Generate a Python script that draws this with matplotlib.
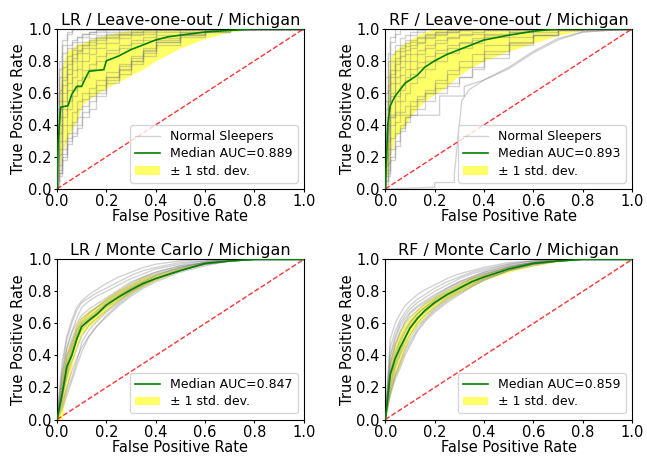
import matplotlib
matplotlib.use("Agg")
import matplotlib.pyplot as plt

# ---- leave-one-out panels: shared FPR grid ----
loo_fpr = [0, 0.01, 0.02, 0.04, 0.06, 0.08, 0.1, 0.13, 0.16, 0.2,
           0.25, 0.3, 0.35, 0.4, 0.5, 0.6, 0.7, 0.8, 0.9, 1.0]

lr_loo_curves = [
    [0, 0.55, 0.75, 0.90, 0.97, 1.0, 1.0, 1.0, 1.0, 1.0, 1.0, 1.0, 1.0, 1.0, 1.0, 1.0, 1.0, 1.0, 1.0, 1.0],
    [0, 0.30, 0.60, 0.80, 0.88, 0.92, 0.95, 0.97, 0.98, 0.99, 1.0, 1.0, 1.0, 1.0, 1.0, 1.0, 1.0, 1.0, 1.0, 1.0],
    [0, 0.20, 0.35, 0.60, 0.72, 0.80, 0.85, 0.88, 0.90, 0.93, 0.95, 0.97, 0.98, 0.99, 1.0, 1.0, 1.0, 1.0, 1.0, 1.0],
    [0, 0.10, 0.25, 0.45, 0.55, 0.62, 0.68, 0.74, 0.78, 0.83, 0.87, 0.90, 0.93, 0.95, 0.98, 0.99, 1.0, 1.0, 1.0, 1.0],
    [0, 0.05, 0.10, 0.20, 0.28, 0.33, 0.38, 0.45, 0.50, 0.58, 0.66, 0.72, 0.78, 0.83, 0.90, 0.95, 0.98, 0.99, 1.0, 1.0],
    [0, 0.02, 0.08, 0.18, 0.30, 0.35, 0.40, 0.48, 0.55, 0.60, 0.68, 0.75, 0.80, 0.86, 0.92, 0.96, 0.98, 1.0, 1.0, 1.0],
    [0, 0.40, 0.55, 0.70, 0.78, 0.84, 0.87, 0.90, 0.92, 0.94, 0.96, 0.97, 0.98, 0.99, 1.0, 1.0, 1.0, 1.0, 1.0, 1.0],
    [0, 0.15, 0.30, 0.50, 0.62, 0.70, 0.75, 0.80, 0.84, 0.88, 0.91, 0.94, 0.96, 0.97, 0.99, 1.0, 1.0, 1.0, 1.0, 1.0],
    [0, 0.08, 0.15, 0.30, 0.40, 0.48, 0.55, 0.60, 0.63, 0.68, 0.73, 0.78, 0.83, 0.87, 0.93, 0.97, 0.99, 1.0, 1.0, 1.0],
    [0, 0.60, 0.80, 0.93, 0.98, 1.0, 1.0, 1.0, 1.0, 1.0, 1.0, 1.0, 1.0, 1.0, 1.0, 1.0, 1.0, 1.0, 1.0, 1.0],
    [0, 0.25, 0.45, 0.65, 0.75, 0.82, 0.86, 0.90, 0.93, 0.95, 0.97, 0.98, 0.99, 1.0, 1.0, 1.0, 1.0, 1.0, 1.0, 1.0],
    [0, 0.05, 0.12, 0.25, 0.35, 0.42, 0.50, 0.56, 0.60, 0.65, 0.70, 0.74, 0.80, 0.85, 0.92, 0.96, 0.99, 1.0, 1.0, 1.0],
    [0, 0.35, 0.50, 0.68, 0.80, 0.88, 0.92, 0.95, 0.97, 0.98, 0.99, 1.0, 1.0, 1.0, 1.0, 1.0, 1.0, 1.0, 1.0, 1.0],
    [0, 0.12, 0.22, 0.40, 0.50, 0.58, 0.65, 0.70, 0.75, 0.80, 0.85, 0.88, 0.91, 0.93, 0.96, 0.98, 1.0, 1.0, 1.0, 1.0],
    [0, 0.45, 0.70, 0.85, 0.90, 0.93, 0.95, 0.97, 0.98, 0.99, 1.0, 1.0, 1.0, 1.0, 1.0, 1.0, 1.0, 1.0, 1.0, 1.0],
    [0, 0.03, 0.10, 0.22, 0.32, 0.40, 0.45, 0.52, 0.58, 0.62, 0.70, 0.77, 0.82, 0.88, 0.94, 0.98, 1.0, 1.0, 1.0, 1.0],
    [0, 0.50, 0.62, 0.76, 0.83, 0.87, 0.90, 0.92, 0.94, 0.96, 0.98, 0.99, 1.0, 1.0, 1.0, 1.0, 1.0, 1.0, 1.0, 1.0],
    [0, 0.18, 0.40, 0.55, 0.66, 0.74, 0.80, 0.85, 0.88, 0.91, 0.94, 0.96, 0.97, 0.98, 0.99, 1.0, 1.0, 1.0, 1.0, 1.0],
]
lr_loo_lower = [0, 0.12, 0.22, 0.30, 0.37, 0.42, 0.52, 0.56, 0.59, 0.63, 0.67, 0.71, 0.75, 0.80, 0.88, 0.94, 0.98, 1.0, 1.0, 1.0]
lr_loo_upper = [0, 0.60, 0.76, 0.86, 0.88, 0.90, 0.91, 0.93, 0.945, 0.96, 0.98, 0.99, 1.0, 1.0, 1.0, 1.0, 1.0, 1.0, 1.0, 1.0]
lr_loo_med_fpr = [0, 0.005, 0.015, 0.045, 0.06, 0.08, 0.1, 0.115, 0.13, 0.19, 0.2,
                  0.25, 0.3, 0.35, 0.4, 0.45, 0.5, 0.55, 0.6, 0.7, 0.8, 1.0]
lr_loo_med_tpr = [0, 0.30, 0.51, 0.52, 0.59, 0.64, 0.64, 0.69, 0.735, 0.745, 0.80,
                  0.83, 0.87, 0.90, 0.93, 0.95, 0.96, 0.97, 0.98, 0.99, 1.0, 1.0]

rf_loo_curves = [
    [0, 0.60, 0.80, 0.92, 0.97, 1.0, 1.0, 1.0, 1.0, 1.0, 1.0, 1.0, 1.0, 1.0, 1.0, 1.0, 1.0, 1.0, 1.0, 1.0],
    [0, 0.45, 0.65, 0.80, 0.86, 0.90, 0.93, 0.96, 0.98, 1.0, 1.0, 1.0, 1.0, 1.0, 1.0, 1.0, 1.0, 1.0, 1.0, 1.0],
    [0, 0.30, 0.50, 0.66, 0.74, 0.80, 0.84, 0.88, 0.91, 0.94, 0.96, 0.98, 0.99, 1.0, 1.0, 1.0, 1.0, 1.0, 1.0, 1.0],
    [0, 0.20, 0.40, 0.58, 0.66, 0.71, 0.75, 0.80, 0.84, 0.88, 0.91, 0.94, 0.96, 0.97, 0.99, 1.0, 1.0, 1.0, 1.0, 1.0],
    [0, 0.10, 0.22, 0.40, 0.48, 0.55, 0.60, 0.66, 0.70, 0.75, 0.80, 0.85, 0.88, 0.91, 0.95, 0.98, 1.0, 1.0, 1.0, 1.0],
    [0, 0.05, 0.10, 0.18, 0.27, 0.36, 0.45, 0.50, 0.55, 0.60, 0.66, 0.72, 0.76, 0.80, 0.86, 0.92, 0.96, 0.99, 1.0, 1.0],
    [0, 0.05, 0.12, 0.25, 0.35, 0.40, 0.45, 0.52, 0.56, 0.60, 0.63, 0.66, 0.70, 0.75, 0.82, 0.90, 0.96, 0.99, 1.0, 1.0],
    [0, 0.50, 0.70, 0.84, 0.90, 0.94, 0.96, 0.98, 0.99, 1.0, 1.0, 1.0, 1.0, 1.0, 1.0, 1.0, 1.0, 1.0, 1.0, 1.0],
    [0, 0.25, 0.45, 0.60, 0.70, 0.76, 0.80, 0.84, 0.87, 0.90, 0.93, 0.95, 0.97, 0.98, 0.99, 1.0, 1.0, 1.0, 1.0, 1.0],
    [0, 0.15, 0.30, 0.45, 0.55, 0.62, 0.68, 0.72, 0.76, 0.80, 0.85, 0.88, 0.91, 0.93, 0.96, 0.98, 0.99, 1.0, 1.0, 1.0],
    [0, 0.40, 0.55, 0.70, 0.78, 0.83, 0.87, 0.90, 0.92, 0.95, 0.97, 0.98, 0.99, 1.0, 1.0, 1.0, 1.0, 1.0, 1.0, 1.0],
    [0, 0.08, 0.16, 0.32, 0.42, 0.48, 0.52, 0.55, 0.58, 0.62, 0.68, 0.74, 0.80, 0.84, 0.90, 0.95, 0.98, 1.0, 1.0, 1.0],
    [0, 0.70, 0.85, 0.95, 1.0, 1.0, 1.0, 1.0, 1.0, 1.0, 1.0, 1.0, 1.0, 1.0, 1.0, 1.0, 1.0, 1.0, 1.0, 1.0],
    [0, 0.35, 0.55, 0.72, 0.80, 0.86, 0.89, 0.92, 0.94, 0.96, 0.98, 0.99, 1.0, 1.0, 1.0, 1.0, 1.0, 1.0, 1.0, 1.0],
    [0, 0.12, 0.25, 0.45, 0.58, 0.65, 0.70, 0.75, 0.79, 0.83, 0.87, 0.90, 0.92, 0.94, 0.97, 0.99, 1.0, 1.0, 1.0, 1.0],
    [0, 0.03, 0.08, 0.20, 0.30, 0.38, 0.42, 0.46, 0.50, 0.55, 0.60, 0.64, 0.70, 0.76, 0.84, 0.91, 0.96, 0.99, 1.0, 1.0],
    [0, 0.55, 0.62, 0.74, 0.82, 0.88, 0.91, 0.93, 0.95, 0.97, 0.98, 0.99, 1.0, 1.0, 1.0, 1.0, 1.0, 1.0, 1.0, 1.0],
]
# two odd leave-one-out subjects with their own FPR points
rf_odd1_fpr = [0, 0.2, 0.2, 0.28, 0.28, 0.31, 0.34, 0.4, 0.5, 0.6, 0.7, 0.8, 1.0]
rf_odd1_tpr = [0, 0.01, 0.04, 0.04, 0.10, 0.55, 0.62, 0.68, 0.75, 0.85, 0.93, 0.98, 1.0]
rf_odd2_fpr = [0, 0.02, 0.22, 0.22, 0.32, 0.32, 0.4, 0.5, 0.6, 0.7, 0.8, 1.0]
rf_odd2_tpr = [0, 0.46, 0.46, 0.58, 0.58, 0.64, 0.68, 0.76, 0.86, 0.94, 0.98, 1.0]
rf_loo_lower = [0, 0.10, 0.20, 0.32, 0.36, 0.39, 0.45, 0.50, 0.55, 0.59, 0.64, 0.71, 0.76, 0.80, 0.86, 0.91, 0.96, 0.99, 1.0, 1.0]
rf_loo_upper = [0, 0.68, 0.82, 0.86, 0.89, 0.91, 0.93, 0.96, 0.98, 1.0, 1.0, 1.0, 1.0, 1.0, 1.0, 1.0, 1.0, 1.0, 1.0, 1.0]
rf_loo_median = [0, 0.40, 0.52, 0.58, 0.62, 0.66, 0.68, 0.71, 0.76, 0.80, 0.84, 0.87, 0.90, 0.93, 0.96, 0.985, 1.0, 1.0, 1.0, 1.0]

# ---- Monte Carlo panels: shared FPR grid ----
mc_fpr = [0, 0.02, 0.04, 0.06, 0.08, 0.1, 0.13, 0.16, 0.2, 0.25,
          0.3, 0.35, 0.4, 0.5, 0.6, 0.7, 0.8, 0.9, 1.0]

lr_mc_curves = [
    [0, 0.25, 0.45, 0.55, 0.63, 0.70, 0.74, 0.77, 0.80, 0.84, 0.88, 0.91, 0.94, 0.97, 0.99, 1.0, 1.0, 1.0, 1.0],
    [0, 0.10, 0.20, 0.30, 0.38, 0.45, 0.52, 0.58, 0.64, 0.71, 0.77, 0.82, 0.86, 0.92, 0.96, 0.99, 1.0, 1.0, 1.0],
    [0, 0.18, 0.35, 0.46, 0.55, 0.60, 0.64, 0.68, 0.73, 0.78, 0.83, 0.87, 0.90, 0.95, 0.98, 1.0, 1.0, 1.0, 1.0],
    [0, 0.12, 0.28, 0.40, 0.50, 0.56, 0.61, 0.65, 0.70, 0.75, 0.80, 0.84, 0.88, 0.93, 0.97, 0.99, 1.0, 1.0, 1.0],
    [0, 0.22, 0.40, 0.50, 0.58, 0.63, 0.67, 0.70, 0.74, 0.79, 0.84, 0.88, 0.91, 0.95, 0.98, 0.99, 1.0, 1.0, 1.0],
    [0, 0.08, 0.18, 0.26, 0.36, 0.48, 0.56, 0.61, 0.67, 0.73, 0.79, 0.84, 0.88, 0.94, 0.97, 0.99, 1.0, 1.0, 1.0],
    [0, 0.30, 0.50, 0.60, 0.68, 0.73, 0.76, 0.79, 0.82, 0.86, 0.90, 0.93, 0.95, 0.98, 0.99, 1.0, 1.0, 1.0, 1.0],
    [0, 0.15, 0.32, 0.44, 0.53, 0.59, 0.63, 0.66, 0.71, 0.77, 0.82, 0.86, 0.89, 0.94, 0.97, 0.99, 1.0, 1.0, 1.0],
    [0, 0.20, 0.38, 0.48, 0.56, 0.61, 0.66, 0.70, 0.75, 0.80, 0.85, 0.89, 0.92, 0.96, 0.98, 1.0, 1.0, 1.0, 1.0],
    [0, 0.14, 0.26, 0.36, 0.44, 0.52, 0.59, 0.63, 0.68, 0.74, 0.80, 0.85, 0.88, 0.93, 0.97, 0.99, 1.0, 1.0, 1.0],
    [0, 0.28, 0.44, 0.54, 0.60, 0.65, 0.69, 0.72, 0.76, 0.81, 0.86, 0.89, 0.92, 0.96, 0.98, 1.0, 1.0, 1.0, 1.0],
    [0, 0.06, 0.15, 0.24, 0.33, 0.42, 0.52, 0.58, 0.65, 0.72, 0.78, 0.83, 0.87, 0.93, 0.97, 0.99, 1.0, 1.0, 1.0],
    [0, 0.35, 0.52, 0.62, 0.70, 0.74, 0.78, 0.81, 0.85, 0.89, 0.92, 0.95, 0.97, 0.99, 1.0, 1.0, 1.0, 1.0, 1.0],
    [0, 0.16, 0.30, 0.42, 0.52, 0.58, 0.62, 0.67, 0.72, 0.77, 0.82, 0.86, 0.90, 0.95, 0.98, 0.99, 1.0, 1.0, 1.0],
]
lr_mc_lower = [0, 0.0, 0.20, 0.32, 0.45, 0.53, 0.58, 0.62, 0.68, 0.74, 0.79, 0.83, 0.87, 0.93, 0.97, 0.99, 1.0, 1.0, 1.0]
lr_mc_upper = [0, 0.30, 0.43, 0.50, 0.60, 0.64, 0.68, 0.71, 0.76, 0.81, 0.85, 0.89, 0.91, 0.95, 0.98, 1.0, 1.0, 1.0, 1.0]
lr_mc_median = [0, 0.15, 0.33, 0.40, 0.50, 0.58, 0.62, 0.655, 0.715, 0.765, 0.81, 0.85, 0.88, 0.93, 0.975, 0.99, 1.0, 1.0, 1.0]

rf_mc_curves = [
    [0, 0.45, 0.55, 0.62, 0.67, 0.71, 0.75, 0.78, 0.82, 0.86, 0.89, 0.92, 0.94, 0.97, 0.99, 1.0, 1.0, 1.0, 1.0],
    [0, 0.15, 0.25, 0.32, 0.40, 0.46, 0.55, 0.61, 0.67, 0.73, 0.78, 0.83, 0.87, 0.93, 0.97, 0.99, 1.0, 1.0, 1.0],
    [0, 0.30, 0.42, 0.50, 0.56, 0.61, 0.66, 0.70, 0.75, 0.80, 0.84, 0.88, 0.91, 0.95, 0.98, 1.0, 1.0, 1.0, 1.0],
    [0, 0.20, 0.32, 0.40, 0.47, 0.53, 0.60, 0.65, 0.70, 0.76, 0.81, 0.85, 0.88, 0.94, 0.97, 0.99, 1.0, 1.0, 1.0],
    [0, 0.38, 0.50, 0.58, 0.63, 0.67, 0.71, 0.74, 0.78, 0.82, 0.86, 0.89, 0.92, 0.96, 0.98, 1.0, 1.0, 1.0, 1.0],
    [0, 0.25, 0.36, 0.44, 0.51, 0.57, 0.63, 0.67, 0.72, 0.77, 0.82, 0.86, 0.89, 0.94, 0.97, 0.99, 1.0, 1.0, 1.0],
    [0, 0.50, 0.60, 0.66, 0.71, 0.74, 0.78, 0.81, 0.84, 0.88, 0.91, 0.93, 0.95, 0.98, 0.99, 1.0, 1.0, 1.0, 1.0],
    [0, 0.18, 0.28, 0.36, 0.44, 0.50, 0.58, 0.63, 0.69, 0.75, 0.80, 0.84, 0.88, 0.93, 0.97, 0.99, 1.0, 1.0, 1.0],
    [0, 0.33, 0.46, 0.54, 0.60, 0.64, 0.68, 0.72, 0.76, 0.81, 0.85, 0.88, 0.91, 0.95, 0.98, 0.99, 1.0, 1.0, 1.0],
    [0, 0.22, 0.34, 0.42, 0.50, 0.58, 0.64, 0.68, 0.73, 0.78, 0.82, 0.86, 0.90, 0.95, 0.98, 0.99, 1.0, 1.0, 1.0],
    [0, 0.40, 0.52, 0.60, 0.65, 0.69, 0.73, 0.76, 0.80, 0.84, 0.88, 0.91, 0.93, 0.97, 0.99, 1.0, 1.0, 1.0, 1.0],
    [0, 0.16, 0.27, 0.34, 0.42, 0.48, 0.56, 0.62, 0.68, 0.74, 0.79, 0.83, 0.87, 0.93, 0.96, 0.99, 1.0, 1.0, 1.0],
    [0, 0.28, 0.40, 0.48, 0.54, 0.60, 0.66, 0.70, 0.74, 0.79, 0.83, 0.87, 0.90, 0.95, 0.98, 0.99, 1.0, 1.0, 1.0],
    [0, 0.35, 0.47, 0.55, 0.61, 0.66, 0.70, 0.73, 0.77, 0.82, 0.86, 0.89, 0.92, 0.96, 0.98, 1.0, 1.0, 1.0, 1.0],
]
rf_mc_lower = [0, 0.15, 0.27, 0.35, 0.44, 0.52, 0.59, 0.64, 0.70, 0.75, 0.79, 0.83, 0.87, 0.92, 0.96, 0.985, 1.0, 1.0, 1.0]
rf_mc_upper = [0, 0.38, 0.48, 0.55, 0.60, 0.64, 0.69, 0.73, 0.77, 0.81, 0.85, 0.89, 0.91, 0.96, 0.985, 1.0, 1.0, 1.0, 1.0]
rf_mc_median = [0, 0.28, 0.38, 0.45, 0.51, 0.57, 0.63, 0.68, 0.73, 0.78, 0.82, 0.86, 0.89, 0.94, 0.975, 0.99, 1.0, 1.0, 1.0]

titles = ["LR / Leave-one-out / Michigan", "RF / Leave-one-out / Michigan",
          "LR / Monte Carlo / Michigan", "RF / Monte Carlo / Michigan"]
aucs = [0.889, 0.893, 0.847, 0.859]


def draw_panel(ax, title, fpr, curves, lower, upper, med_x, med_y, auc,
               steps=False, label_gray=False, extra=()):
    ax.fill_between(fpr, lower, upper, color="yellow", alpha=0.6,
                    lw=0, label="± 1 std. dev.", zorder=1)
    ds = "steps-pre" if steps else "default"
    for i, c in enumerate(curves):
        lab = "Normal Sleepers" if (label_gray and i == 0) else None
        ax.plot(fpr, c, color="gray", alpha=0.35, lw=1, drawstyle=ds,
                label=lab, zorder=2)
    for ex, ey in extra:
        ax.plot(ex, ey, color="gray", alpha=0.35, lw=1, zorder=2)
    ax.plot(med_x, med_y, color="green", lw=1.2,
            label=f"Median AUC={auc:.3f}", zorder=3)
    ax.plot([0, 1], [0, 1], "r--", lw=1, alpha=0.8, zorder=2)
    ax.set_xlim(0, 1)
    ax.set_ylim(0, 1)
    ax.set_title(title, fontsize=11.5, pad=3)
    ax.set_xlabel("False Positive Rate", fontsize=10.5, labelpad=0)
    ax.set_ylabel("True Positive Rate", fontsize=10.5, labelpad=1)
    ax.tick_params(labelsize=10.5, length=2.5, pad=1.5)
    handles, labels = ax.get_legend_handles_labels()
    order = [labels.index(l) for l in
             (["Normal Sleepers"] if label_gray else []) +
             [f"Median AUC={auc:.3f}", "± 1 std. dev."]]
    ax.legend([handles[k] for k in order], [labels[k] for k in order],
              loc="lower right", fontsize=9, labelspacing=0.35)


fig, axes = plt.subplots(2, 2, figsize=(6.47, 4.57), dpi=100)
fig.subplots_adjust(left=0.088, right=0.977, top=0.937, bottom=0.082,
                    wspace=0.33, hspace=0.44)

draw_panel(axes[0, 0], titles[0], loo_fpr, lr_loo_curves, lr_loo_lower,
           lr_loo_upper, lr_loo_med_fpr, lr_loo_med_tpr, aucs[0],
           steps=True, label_gray=True)
draw_panel(axes[0, 1], titles[1], loo_fpr, rf_loo_curves, rf_loo_lower,
           rf_loo_upper, loo_fpr, rf_loo_median, aucs[1],
           steps=True, label_gray=True,
           extra=[(rf_odd1_fpr, rf_odd1_tpr), (rf_odd2_fpr, rf_odd2_tpr)])
draw_panel(axes[1, 0], titles[2], mc_fpr, lr_mc_curves, lr_mc_lower,
           lr_mc_upper, mc_fpr, lr_mc_median, aucs[2])
draw_panel(axes[1, 1], titles[3], mc_fpr, rf_mc_curves, rf_mc_lower,
           rf_mc_upper, mc_fpr, rf_mc_median, aucs[3])

fig.savefig("out.png", dpi=100)
